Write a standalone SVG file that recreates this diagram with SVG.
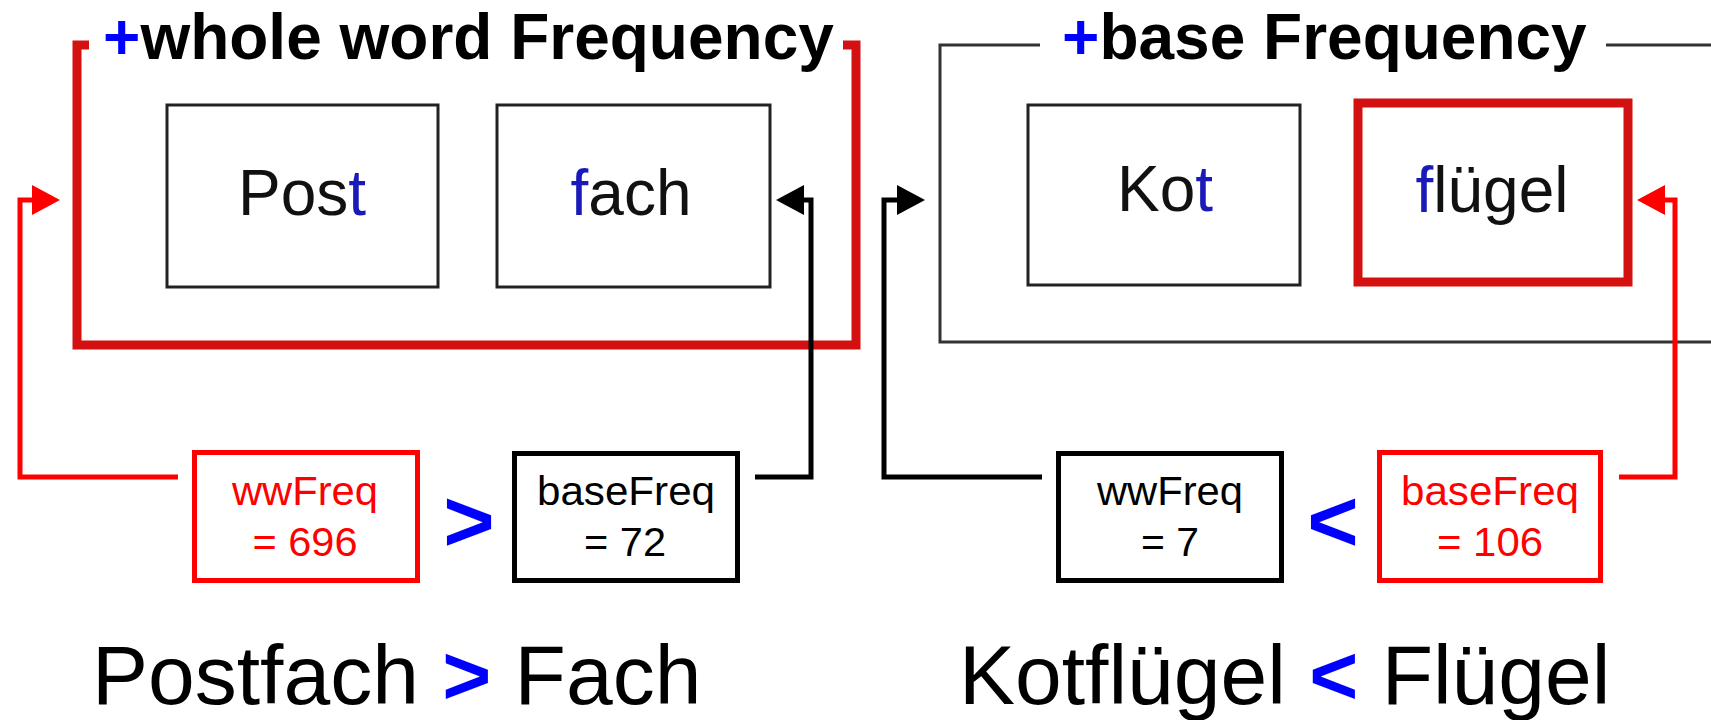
<svg xmlns="http://www.w3.org/2000/svg" width="1711" height="720" viewBox="0 0 1711 720">
  <style>
    .sans { font-family: "Liberation Sans", Arial, sans-serif; }
    .title { font-size: 64px; font-weight: bold; fill: #000; }
    .plus { fill: #0000ff; }
    .word { font-size: 64px; fill: #111; text-anchor: middle; }
    .hl { fill: #1a1ab8; }
    .freq { font-size: 40px; text-anchor: middle; }
    .cmp { font-size: 88px; font-weight: bold; fill: #0000ff; text-anchor: middle; }
    .caption { font-size: 84px; fill: #000; }
    .capcmp { font-weight: bold; fill: #0000ff; }
    .wordbox { fill: #fff; stroke: #222; stroke-width: 3; }
    .redframe { fill: none; stroke: #d41111; stroke-width: 9; }
    .grayframe { fill: none; stroke: #333; stroke-width: 3; }
    .valbox-red { fill: #fff; stroke: #ff0000; stroke-width: 5; }
    .valbox-black { fill: #fff; stroke: #000; stroke-width: 5; }
    .link-red { fill: none; stroke: #ff0000; stroke-width: 5; }
    .link-black { fill: none; stroke: #000; stroke-width: 5; }
  </style>
  <defs>
    <marker id="head-red" viewBox="0 0 28 30" refX="1" refY="15" markerWidth="28" markerHeight="30" markerUnits="userSpaceOnUse" orient="auto">
      <path d="M0,0 L28,15 L0,30 Z" fill="#ff0000"/>
    </marker>
    <marker id="head-black" viewBox="0 0 28 30" refX="1" refY="15" markerWidth="28" markerHeight="30" markerUnits="userSpaceOnUse" orient="auto">
      <path d="M0,0 L28,15 L0,30 Z" fill="#000"/>
    </marker>
  </defs>
  <rect width="1711" height="720" fill="#fff"/>

  <!-- whole-word frequency panel -->
  <g id="panel-wholeword">
    <path class="redframe" d="M89,45 H77 V345 H856 V45 H843"/>
    <text class="sans title" x="103" y="59"><tspan class="plus">+</tspan>whole word Frequency</text>
  </g>
  <g id="node-post">
    <rect class="wordbox" x="167" y="105" width="271" height="182"/>
    <text class="sans word" x="302" y="215">Pos<tspan class="hl">t</tspan></text>
  </g>
  <g id="node-fach">
    <rect class="wordbox" x="497" y="105" width="273" height="182"/>
    <text class="sans word" x="631" y="215"><tspan class="hl">f</tspan>ach</text>
  </g>

  <!-- base frequency panel -->
  <g id="panel-base">
    <path class="grayframe" d="M1040,45 H940 V342 H1711 M1606,45 H1711"/>
    <text class="sans title" x="1062" y="59"><tspan class="plus">+</tspan>base Frequency</text>
  </g>
  <g id="node-kot">
    <rect class="wordbox" x="1028" y="105" width="272" height="180"/>
    <text class="sans word" x="1165" y="211">Ko<tspan class="hl">t</tspan></text>
  </g>
  <g id="node-fluegel">
    <rect x="1358" y="103" width="270" height="179" fill="#fff" stroke="#d41111" stroke-width="9"/>
    <text class="sans word" x="1492" y="212"><tspan class="hl">f</tspan>lügel</text>
  </g>

  <!-- frequency values -->
  <g id="node-ww-postfach">
    <rect class="valbox-red" x="194.5" y="452.5" width="223" height="128"/>
    <text class="sans freq" x="305" y="505" fill="#ff0000" textLength="146" lengthAdjust="spacingAndGlyphs">wwFreq</text>
    <text class="sans freq" x="305" y="556" fill="#ff0000" textLength="105" lengthAdjust="spacingAndGlyphs">= 696</text>
  </g>
  <g id="node-base-fach">
    <rect class="valbox-black" x="514.5" y="453.5" width="223" height="127"/>
    <text class="sans freq" x="626" y="505" fill="#000" textLength="178" lengthAdjust="spacingAndGlyphs">baseFreq</text>
    <text class="sans freq" x="625" y="556" fill="#000" textLength="82" lengthAdjust="spacingAndGlyphs">= 72</text>
  </g>
  <text class="sans cmp" x="469" y="551">&gt;</text>

  <g id="node-ww-kotfluegel">
    <rect class="valbox-black" x="1058.5" y="453.5" width="223" height="127"/>
    <text class="sans freq" x="1170" y="505" fill="#000" textLength="146" lengthAdjust="spacingAndGlyphs">wwFreq</text>
    <text class="sans freq" x="1170" y="556" fill="#000" textLength="58" lengthAdjust="spacingAndGlyphs">= 7</text>
  </g>
  <g id="node-base-fluegel">
    <rect class="valbox-red" x="1379.5" y="452.5" width="221" height="128"/>
    <text class="sans freq" x="1490" y="505" fill="#ff0000" textLength="178" lengthAdjust="spacingAndGlyphs">baseFreq</text>
    <text class="sans freq" x="1490" y="556" fill="#ff0000" textLength="106" lengthAdjust="spacingAndGlyphs">= 106</text>
  </g>
  <text class="sans cmp" x="1333" y="551">&lt;</text>

  <!-- connectors -->
  <g id="connectors">
    <path class="link-red" d="M178,477 H20 V200 H33" marker-end="url(#head-red)"/>
    <path class="link-black" d="M755,477 H811 V200 H803" marker-end="url(#head-black)"/>
    <path class="link-black" d="M1042,477 H884 V200 H898" marker-end="url(#head-black)"/>
    <path class="link-red" d="M1619,477 H1675 V200 H1664" marker-end="url(#head-red)"/>
  </g>

  <!-- captions -->
  <text class="sans caption" x="92" y="704">Postfach <tspan class="capcmp">&gt;</tspan> Fach</text>
  <text class="sans caption" x="959" y="704">Kotflügel <tspan class="capcmp">&lt;</tspan> Flügel</text>
</svg>
